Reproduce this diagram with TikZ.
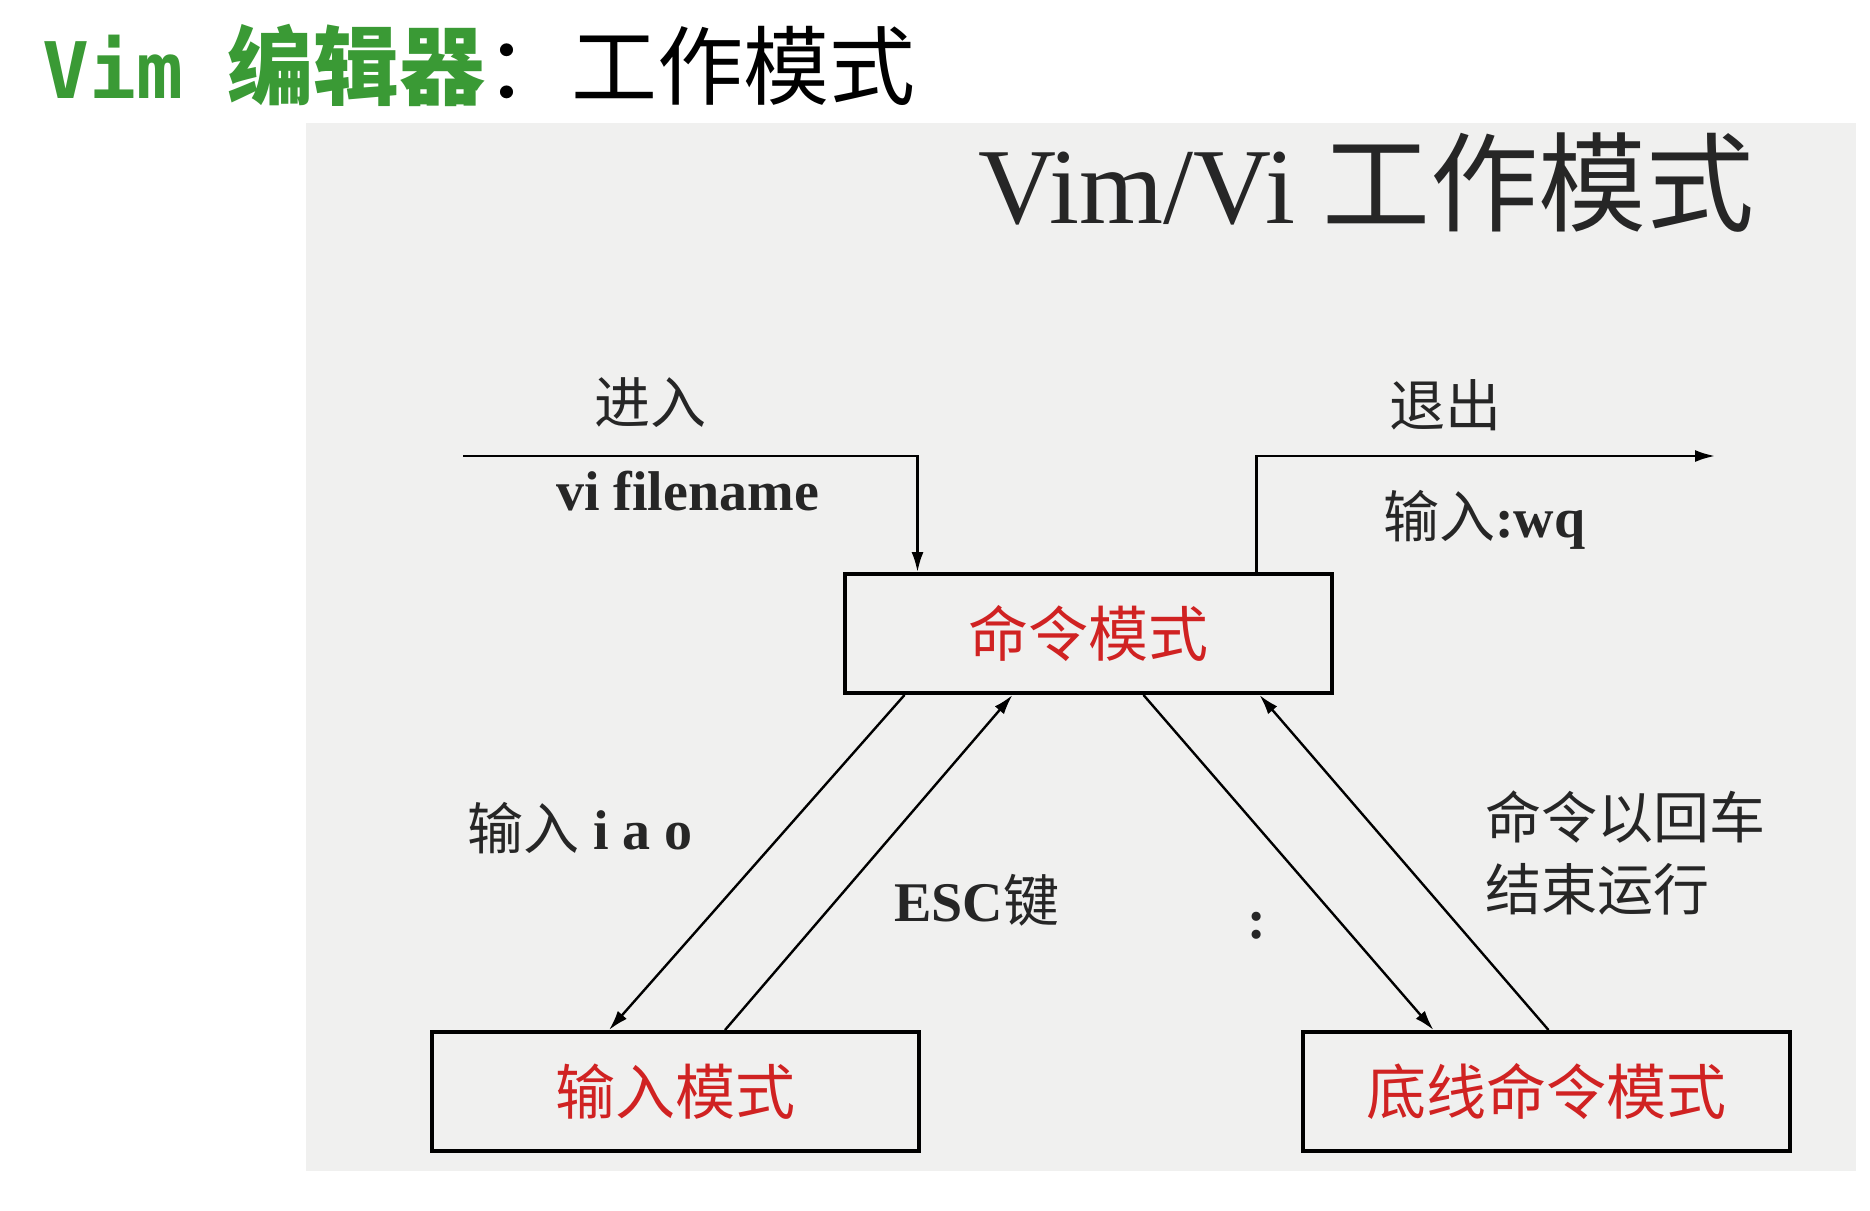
\documentclass[tikz,border=0pt]{standalone}
\usepackage{fontspec}
\setmainfont{Liberation Serif}
\newfontfamily\cjk{Noto Sans CJK SC}
\newfontfamily\monofont{DejaVu Sans Mono}
\usetikzlibrary{arrows.meta,calc}
\definecolor{titlegreen}{HTML}{3A9A35}
\definecolor{panelgray}{HTML}{F0F0EF}
\definecolor{modered}{HTML}{D02222}
\definecolor{labelgray}{HTML}{262626}

\tikzset{
  modebox/.style={draw, line width=4pt, minimum width=487pt, minimum height=119pt,
    inner sep=0pt, text=modered, font=\cjk\fontsize{60}{66}\selectfont},
  arr/.style={-{Latex[length=20pt,width=12pt]}, line width=2.4pt},
  lbl/.style={anchor=base west, inner sep=0pt, text=labelgray, font=\fontsize{56}{72}\selectfont},
}

\begin{document}
\begin{tikzpicture}[x=1pt,y=-1pt]
\useasboundingbox[fill=white] (0,0) rectangle (1870,1210);
\fill[panelgray] (306,123) rectangle (1856,1171);

% headings
\node[anchor=base west, inner sep=0pt, font=\fontsize{86}{90}\selectfont] (title) at (42,98)
  {\textcolor{titlegreen}{{\monofont\bfseries\fontsize{78}{90}\selectfont Vim}\hspace{44pt}{\cjk\bfseries 编辑器}}{\cjk ：工作模式}};
\node[anchor=base west, inner sep=0pt, text=labelgray, font=\fontsize{108}{110}\selectfont] (subtitle) at (978,223)
  {Vim/Vi {\cjk 工作模式}};

% modes
\node[modebox] (cmd) at (1088,633.5) {命令模式};
\node[modebox] (ins) at (675.5,1091.5) {输入模式};
\node[modebox] (last) at (1546,1091.5) {底线命令模式};

% enter and exit
\coordinate (enterstart) at (463,456);
\coordinate (cmdin) at ([xshift=75pt]cmd.north west);
\coordinate (cmdout) at ([xshift=414pt]cmd.north west);
\coordinate (exitend) at (1715,456);
\draw[arr] (enterstart) -- (enterstart -| cmdin) -- (cmdin);
\draw[arr] (cmdout) -- (cmdout |- exitend) -- (exitend);

% transitions
\draw[arr] ([xshift=62pt]cmd.south west) -- ([xshift=179pt]ins.north west);
\draw[arr] ([xshift=295pt]ins.north west) -- ([xshift=170pt]cmd.south west);
\draw[arr] ([xshift=301pt]cmd.south west) -- ([xshift=133pt]last.north west);
\draw[arr] ([xshift=248pt]last.north west) -- ([xshift=417pt]cmd.south west);

% labels
\node[lbl] (lblenter) at (594,423) {\cjk 进入};
\node[lbl] (lblvi) at (556,510) {\bfseries vi filename};
\node[lbl] (lblexit) at (1389,426) {\cjk 退出};
\node[lbl] (lblwq) at (1383,537) {{\cjk 输入}\bfseries :wq};
\node[lbl] (lbliao) at (467,849) {{\cjk 输入}\bfseries\ i\ a\ o};
\node[lbl] (lblesc) at (894,921) {{\bfseries ESC}\cjk 键};
\node[lbl] (lblcolon) at (1247,938) {\bfseries :};
\node[lbl, align=left] (lblreturn) at (1485,910) {\cjk 命令以回车\\\cjk 结束运行};
\end{tikzpicture}
\end{document}
